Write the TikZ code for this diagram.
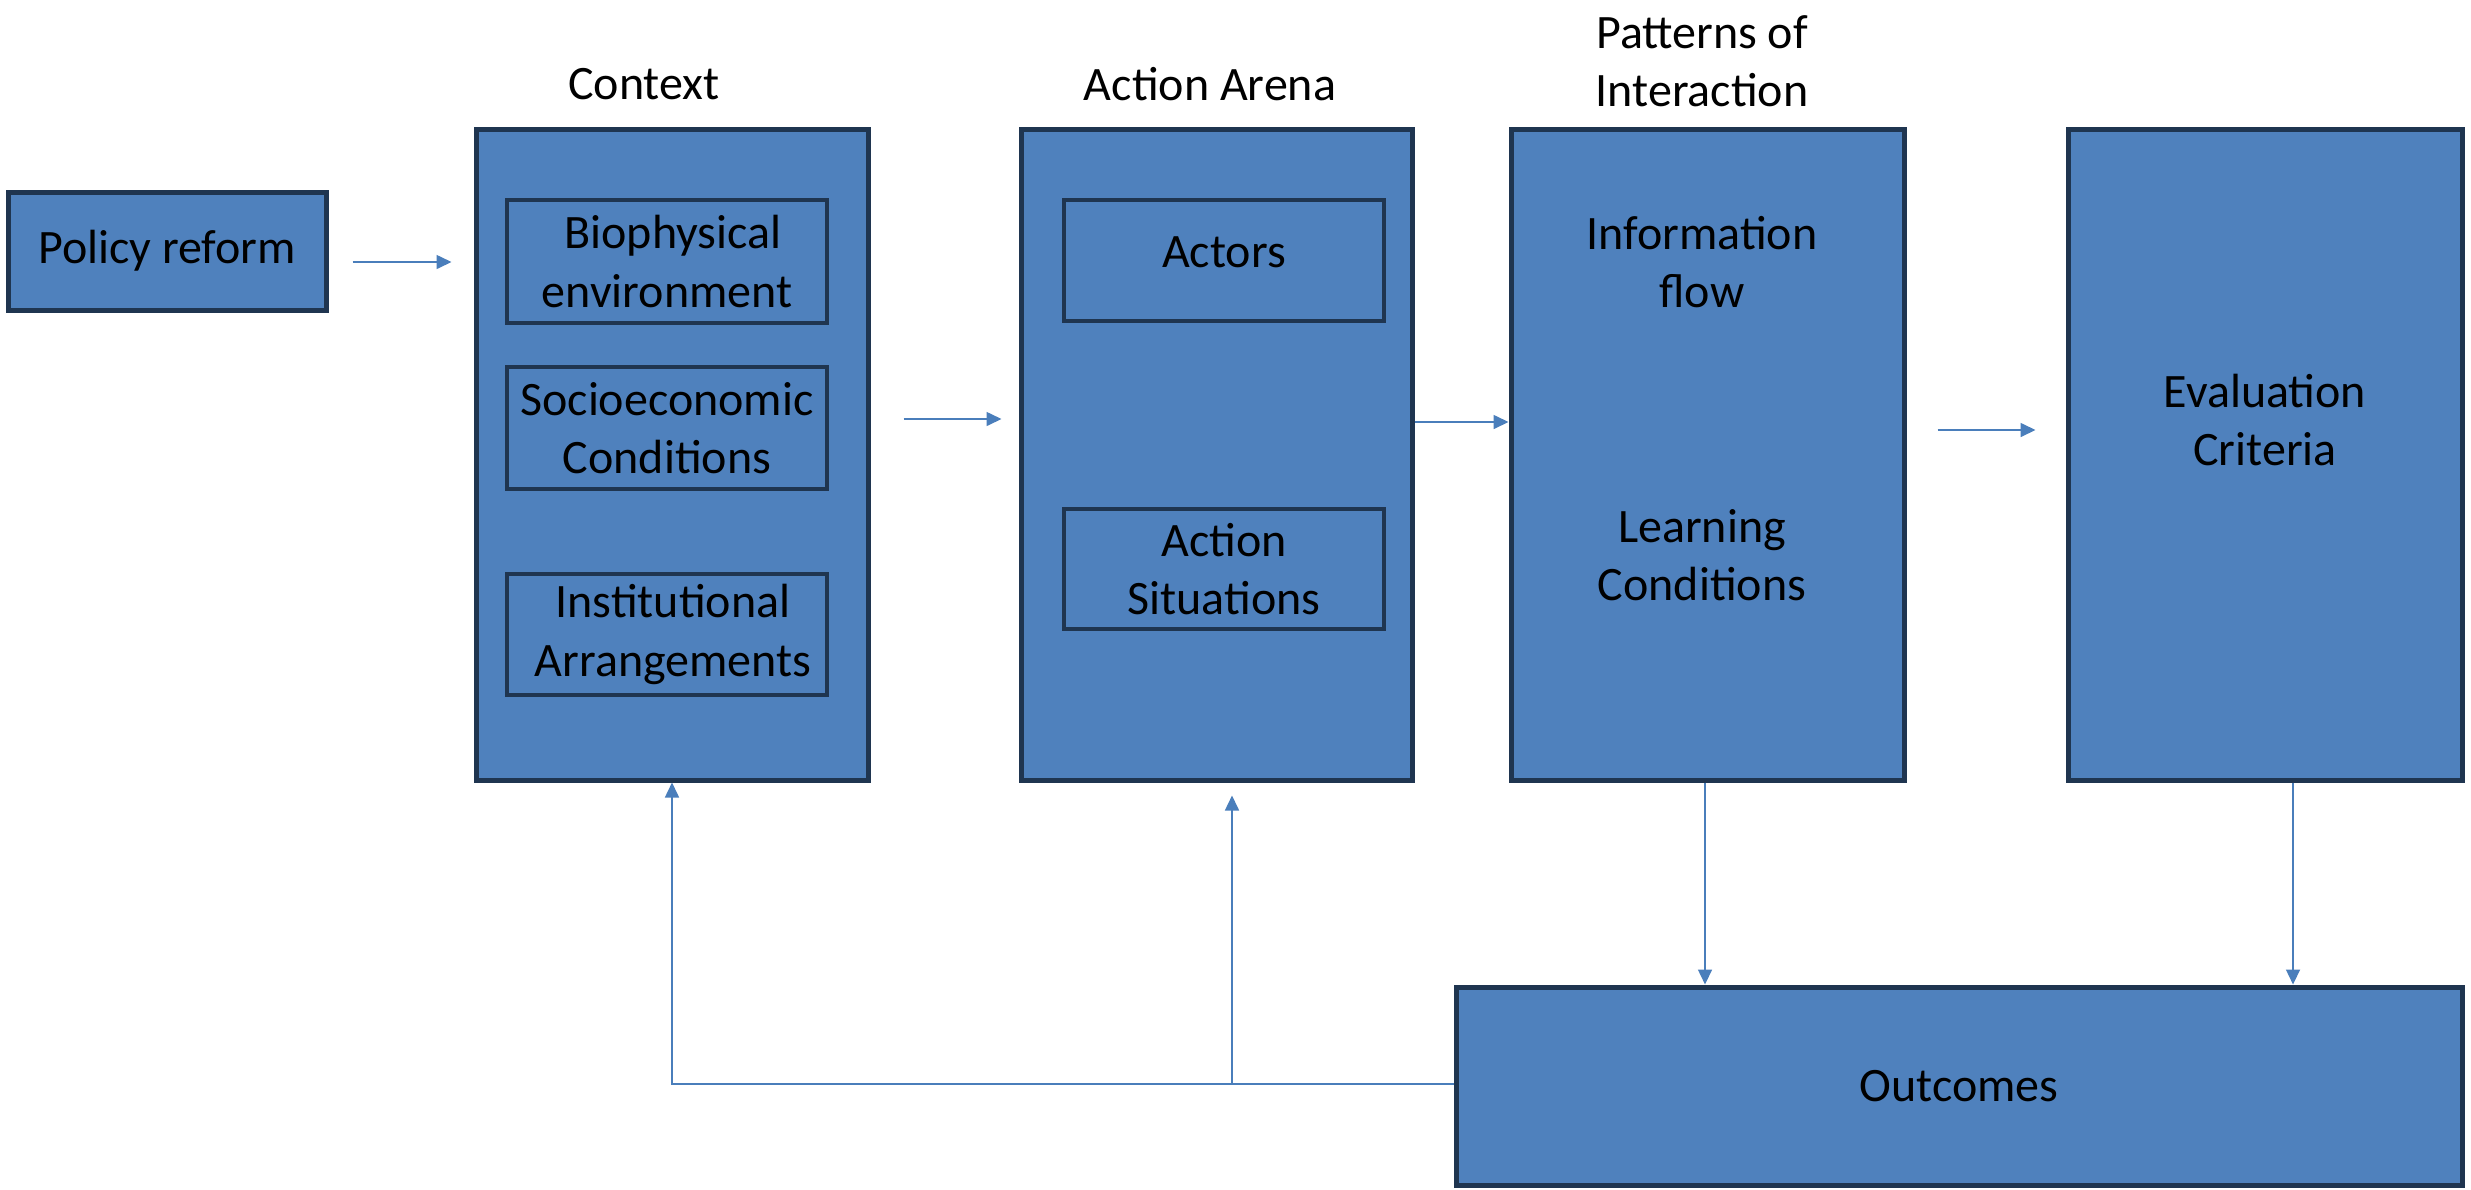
\documentclass[tikz,border=0pt]{standalone}
\usepackage{fontspec}
\setmainfont{Carlito}
\usetikzlibrary{arrows.meta,calc}
\definecolor{boxfill}{HTML}{4F81BD}
\definecolor{boxdraw}{HTML}{1F3550}
\definecolor{linecol}{HTML}{4A7EBB}
\tikzset{
  txt/.style={font=\fontsize{24}{29.2}\selectfont, align=center, text=black, inner sep=0pt},
  bigbox/.style={draw=boxdraw, fill=boxfill, line width=2.5pt, inner sep=0pt},
  inbox/.style={draw=boxdraw, line width=2.2pt, inner sep=0pt, txt},
  arr/.style={draw=linecol, line width=0.8pt, -{Triangle[length=7.5pt,width=7pt]}},
  ln/.style={draw=linecol, line width=0.8pt}
}
\begin{document}
\begin{tikzpicture}[x=0.5pt,y=-0.5pt]
\useasboundingbox (0,0) rectangle (2471,1189);
% main boxes
\node[bigbox, txt, minimum width=159pt, minimum height=59pt] (policy) at (167,251) {Policy reform};
\node[bigbox, minimum width=196pt, minimum height=325.5pt] (context) at (672,454.5) {};
\node[bigbox, minimum width=195.5pt, minimum height=325.5pt] (action) at (1216.5,454.5) {};
\node[bigbox, minimum width=196.5pt, minimum height=325.5pt] (patterns) at (1707.5,454.5) {};
\node[bigbox, minimum width=197pt, minimum height=325.5pt] (eval) at (2265,454.5) {};
\node[bigbox, txt, minimum width=503pt, minimum height=99pt] (outcomes) at (1959,1086) {Outcomes};
% inner boxes
\node[inbox, minimum width=160pt, minimum height=61.5pt] (bio) at (667,261.5) {\hspace*{6pt}Biophysical\\ environment};
\node[inbox, minimum width=160pt, minimum height=61pt] (socio) at (667,428) {Socioeconomic\\ Conditions};
\node[inbox, minimum width=160pt, minimum height=60.5pt] (inst) at (667,634.5) {\hspace*{6pt}Institutional\\ \hspace*{6pt}Arrangements};
\node[inbox, minimum width=160pt, minimum height=60.5pt] (actors) at (1224,260.5) {\raisebox{8pt}{Actors}};
\node[inbox, minimum width=160pt, minimum height=60pt] (situations) at (1224,569) {Action\\ Situations};
% texts
\node[txt] (infoflow) at (1702,262) {Information\\ flow};
\node[txt] (learning) at (1702,555) {Learning\\ Conditions};
\node[txt] (evaltxt) at (2265,420) {Evaluation\\ Criteria};
\node[txt] (ctxtitle) at (644,84) {Context};
\node[txt] (acttitle) at (1210,84) {Action Arena};
\node[txt] (pattitle) at (1702,61) {Patterns of\\ Interaction};
% helper coordinates
\coordinate (pdown) at ($(patterns.south)+(-2.5,0)$);
\coordinate (pdownend) at (pdown |- outcomes.north);
\coordinate (edown) at ($(eval.south)+(28,0)$);
\coordinate (edownend) at (edown |- outcomes.north);
\coordinate (outl) at ($(outcomes.west)+(0,-2)$);
\coordinate (actup) at ($(action.south)+(15.5,13)$);
\coordinate (junction) at (actup |- outl);
% connectors
\draw[arr] ($(policy.east)+(24,11)$) -- ($(context.west)+(-22,-192.5)$);
\draw[arr] ($(context.east)+(33,-35.5)$) -- ($(action.west)+(-17,-35.5)$);
\draw[arr] ($(action.east)+(0,-32.5)$) -- ($(patterns.west)+(0,-32.5)$);
\draw[arr] ($(patterns.east)+(31,-24.5)$) -- ($(eval.west)+(-30,-24.5)$);
\draw[arr] (pdown) -- (pdownend);
\draw[arr] (edown) -- (edownend);
\draw[arr] (outl) -| (context.south);
\draw[arr] (junction) -- (actup);
\end{tikzpicture}
\end{document}
